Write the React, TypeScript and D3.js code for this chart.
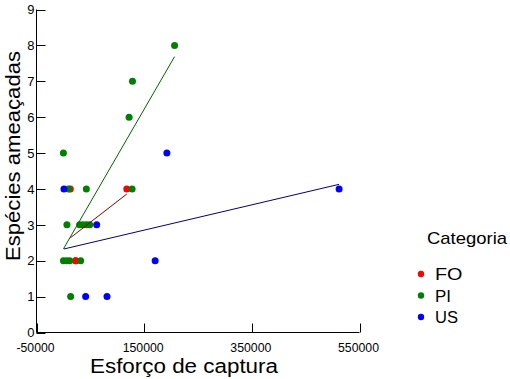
import React from "react";
import * as d3 from "d3";

// ---- data ----
const categories = ["FO", "PI", "US"];
const foX = [12800, 117700, 22700, 22700];
const foY = [4, 4, 2, 2];
const piX = [206500, 128300, 122000, 0, 9600, 42600, 127600, 6500, 30100, 36300, 42600, 48800, 0, 5900, 11500, 32000, 13400];
const piY = [8, 7, 6, 5, 4, 4, 4, 3, 3, 3, 3, 3, 2, 2, 2, 2, 1];
const usX = [1000, 192200, 61800, 170400, 41300, 81000, 512100];
const usY = [4, 5, 3, 2, 1, 1, 4];
const xTicks = [-50000, 150000, 350000, 550000];
const yTicks = [0, 1, 2, 3, 4, 5, 6, 7, 8, 9];

const pointColors = ["#ff0000", "#008000", "#0000ff"];
const lineColors = ["#8b0000", "#006400", "#000080"];

const W = 510;
const H = 379;
const FONT = "'Liberation Sans', Arial, sans-serif";

function fit(xs: number[], ys: number[]) {
  const n = xs.length;
  const mx = d3.mean(xs) as number;
  const my = d3.mean(ys) as number;
  let sxy = 0, sxx = 0;
  for (let i = 0; i < n; i++) {
    sxy += (xs[i] - mx) * (ys[i] - my);
    sxx += (xs[i] - mx) * (xs[i] - mx);
  }
  const b = sxy / sxx;
  const a = my - b * mx;
  const x0 = d3.min(xs) as number;
  const x1 = d3.max(xs) as number;
  return [
    [x0, a + b * x0],
    [x1, a + b * x1],
  ] as [number, number][];
}

export default function App() {
  const x = d3.scaleLinear().domain([-50000, 550000]).range([36.5, 359.5]);
  const y = d3.scaleLinear().domain([0, 9]).range([332.5, 9.5]);
  const groups = [
    { xs: foX, ys: foY },
    { xs: piX, ys: piY },
    { xs: usX, ys: usY },
  ];
  const line = d3
    .line<[number, number]>()
    .x((d) => x(d[0]))
    .y((d) => y(d[1]));

  return (
    <svg
      width={W}
      height={H}
      style={{ position: "absolute", left: 0, top: 0, background: "#fff" }}
      fontFamily={FONT}
    >
      <rect x={0} y={0} width={W} height={H} fill="#fff" />
      {/* axes */}
      <line x1={36.5} x2={36.5} y1={y(9)} y2={y(0)} stroke="#000" strokeWidth={1} />
      <line x1={x(-50000)} x2={x(550000)} y1={332.5} y2={332.5} stroke="#000" strokeWidth={1} />
      {yTicks.map((t) => (
        <g key={"y" + t}>
          <line x1={36.5} x2={45.5} y1={Math.round(y(t)) + 0.5} y2={Math.round(y(t)) + 0.5} stroke="#000" />
          <text x={34.5} y={y(t)} dy="0.36em" textAnchor="end" fontSize={13} fill="#000">
            {t}
          </text>
        </g>
      ))}
      {xTicks.map((t) => (
        <g key={"x" + t}>
          <line x1={Math.round(x(t)) + 0.5} x2={Math.round(x(t)) + 0.5} y1={323.5} y2={332.5} stroke="#000" />
          <text
            x={x(t) - 1}
            y={352}
            textAnchor="middle"
            fontSize={13}
            fill="#000"
            textLength={String(t).length === 6 && t > 0 ? 41 : 38}
            lengthAdjust="spacingAndGlyphs"
          >
            {t}
          </text>
        </g>
      ))}
      {/* axis titles */}
      <text
        x={184}
        y={373}
        textAnchor="middle"
        fontSize={20}
        fill="#000"
        textLength={188}
        lengthAdjust="spacingAndGlyphs"
      >
        Esforço de captura
      </text>
      <text
        transform="translate(19.5,156) rotate(-90)"
        textAnchor="middle"
        fontSize={20}
        fill="#000"
        textLength={210}
        lengthAdjust="spacingAndGlyphs"
      >
        Espécies ameaçadas
      </text>
      {/* points */}
      {groups.map((g, gi) => (
        <g key={"p" + gi}>
          {g.xs.map((v, i) => (
            <circle key={i} cx={x(v)} cy={y(g.ys[i])} r={3.5} fill={pointColors[gi]} />
          ))}
        </g>
      ))}
      {/* regression lines */}
      {groups.map((g, gi) => (
        <path key={"l" + gi} d={line(fit(g.xs, g.ys)) || ""} fill="none" stroke={lineColors[gi]} strokeWidth={1} />
      ))}
      {/* legend */}
      <text x={427} y={243.5} fontSize={17} fill="#000" textLength={80} lengthAdjust="spacingAndGlyphs">
        Categoria
      </text>
      {categories.map((c, i) => {
        const cy = [274, 295.5, 317][i];
        return (
          <g key={c}>
            <circle cx={421} cy={cy} r={3.2} fill={pointColors[i]} />
            <text x={435} y={cy + 6} fontSize={16} fill="#000" textLength={c === "FO" ? 27.5 : c === "PI" ? 16 : 23} lengthAdjust="spacingAndGlyphs">
              {c}
            </text>
          </g>
        );
      })}
    </svg>
  );
}
